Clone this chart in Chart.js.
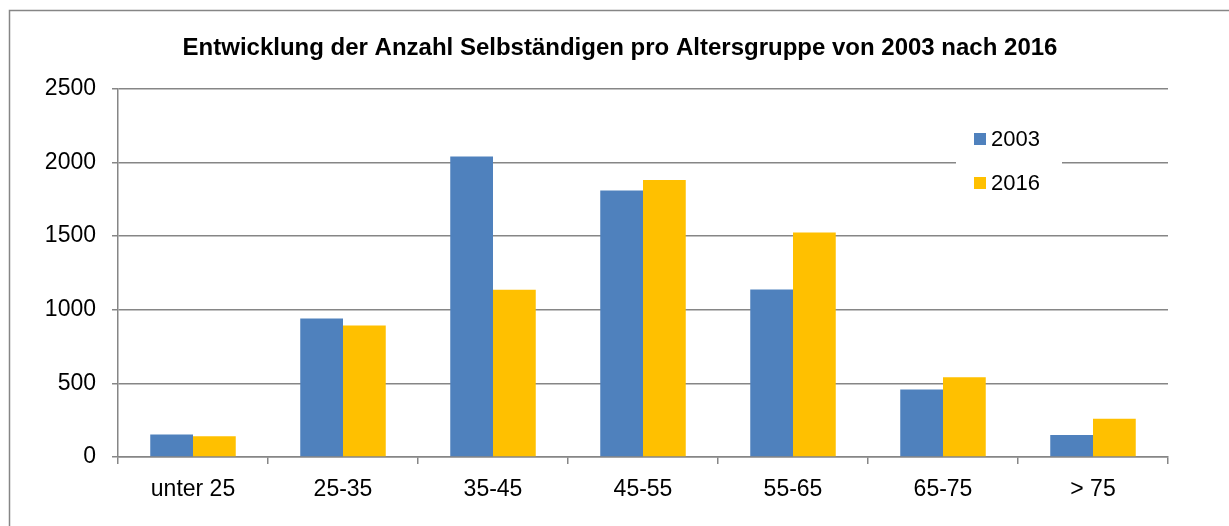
<!DOCTYPE html>
<html>
<head>
<meta charset="utf-8">
<script src="https://cdn.jsdelivr.net/npm/chart.js@4.4.0/dist/chart.umd.min.js"></script>
<style>
    html, body { margin: 0; padding: 0; background: #fff; }
    #wrap { width: 1229px; height: 526px; position: relative; }
</style>
</head>
<body>
<div id="wrap"><canvas id="barChart"></canvas></div>
<script>
const categories = ['unter 25', '25-35', '35-45', '45-55', '55-65', '65-75', '> 75'];
const values2003 = [152, 941, 2040, 1809, 1138, 459, 150];
const values2016 = [141, 893, 1136, 1881, 1525, 541, 259];
const seriesLabels = ['2003', '2016'];
const yTicks = [0, 500, 1000, 1500, 2000, 2500];

const gray = '#868686';
const fontFamily = 'Arial, "Liberation Sans", sans-serif';

// frame around the chart, and move the title box so it is centred on the whole frame
const framePlugin = {
    id: 'frame',
    afterLayout(chart) {
        if (chart.titleBlock) {
            chart.titleBlock.left += 36;
            chart.titleBlock.right += 36;
        }
    },
    beforeDraw(chart) {
        const ctx = chart.ctx;
        ctx.save();
        ctx.strokeStyle = gray;
        ctx.lineWidth = 1.5;
        ctx.beginPath();
        ctx.moveTo(9.5, chart.height);
        ctx.lineTo(9.5, 10.5);
        ctx.lineTo(chart.width, 10.5);
        ctx.stroke();
        ctx.restore();
    }
};

// legend sitting inside the plot area with a white box behind it
const legendPlugin = {
    id: 'boxLegend',
    afterDatasetsDraw(chart) {
        const ctx = chart.ctx;
        ctx.save();
        ctx.fillStyle = '#fff';
        ctx.fillRect(956, 118, 106, 88);
        ctx.font = '22px ' + fontFamily;
        ctx.textBaseline = 'middle';
        chart.data.datasets.forEach((ds, i) => {
            const y = 139 + i * 44;
            ctx.fillStyle = ds.backgroundColor;
            ctx.fillRect(974, y - 6, 12, 12);
            ctx.fillStyle = '#000';
            ctx.fillText(ds.label, 991, y + 1);
        });
        ctx.restore();
    }
};

new Chart(document.getElementById('barChart'), {
    type: 'bar',
    data: {
        labels: categories,
        datasets: [
            {
                label: seriesLabels[0],
                data: values2003,
                backgroundColor: '#4F81BD',
            },
            {
                label: seriesLabels[1],
                data: values2016,
                backgroundColor: '#FFC000',
            },
        ],
    },
    options: {
        responsive: true,
        maintainAspectRatio: false,
        animation: false,
        layout: {
            padding: { left: 0, right: 61, top: 0, bottom: 0 }
        },
        datasets: {
            bar: { categoryPercentage: 0.57, barPercentage: 1 }
        },
        plugins: {
            legend: { display: false },
            tooltip: { enabled: false },
            title: {
                display: true,
                text: 'Entwicklung der Anzahl Selbständigen pro Altersgruppe von 2003 nach 2016',
                color: '#000',
                font: { family: fontFamily, size: 24, weight: 'bold' },
                padding: { top: 34, bottom: 26 },
            },
        },
        scales: {
            x: {
                grid: {
                    drawOnChartArea: false,
                    color: gray,
                    lineWidth: 1.5,
                    tickLength: 7,
                    offset: true,
                },
                border: { color: gray, width: 1.5 },
                ticks: {
                    color: '#000',
                    font: { family: fontFamily, size: 23 },
                    padding: 12,
                    maxRotation: 0,
                },
                afterFit(scale) { scale.height = 69; },
            },
            y: {
                min: 0,
                max: 2500,
                afterBuildTicks(scale) { scale.ticks = yTicks.map(v => ({ value: v })); },
                grid: {
                    color: gray,
                    lineWidth: 1.5,
                    tickLength: 6,
                },
                border: { color: gray, width: 1.5 },
                ticks: {
                    color: '#000',
                    font: { family: fontFamily, size: 23 },
                    padding: 16,
                    callback: (v) => String(v),
                },
                afterFit(scale) { scale.width = 118; },
            },
        },
    },
    plugins: [framePlugin, legendPlugin],
});
</script>
</body>
</html>
